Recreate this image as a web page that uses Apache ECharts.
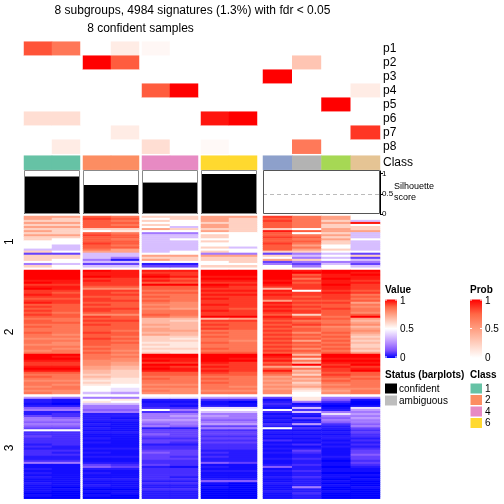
<!DOCTYPE html>
<html><head><meta charset="utf-8">
<script src="https://cdn.jsdelivr.net/npm/echarts@6/dist/echarts.min.js"></script>
<style>html,body{margin:0;padding:0;background:#fff}#c{width:504px;height:504px}</style>
</head><body><div id="c"></div>
<script>
// ---------------- DATA ----------------
const columns = ['c1','c2','c3','c4','c5','c6','c7','c8','c9','c10','c11','c12'];
const columnGroups = [[0,1],[2,3],[4,5],[6,7],[8,9,10,11]];
const probNames = ['p1','p2','p3','p4','p5','p6','p7','p8'];
const p1 = [0.80,0.68,0,0.10,0.04,0,0,0,0,0,0,0];
const p2 = [0,0,1.00,0.78,0,0,0,0,0,0.30,0,0];
const p3 = [0,0,0,0,0,0,0,0,1.00,0,0,0];
const p4 = [0,0,0,0,0.78,1.00,0,0,0,0,0,0.10];
const p5 = [0,0,0,0,0,0,0,0,0,0,1.00,0];
const p6 = [0.17,0.17,0,0,0,0,0.95,1.00,0,0,0,0];
const p7 = [0,0,0,0.10,0,0,0,0,0,0,0,0.87];
const p8 = [0,0.10,0,0,0.17,0,0.03,0,0,0.67,0,0];
const classes = [1,1,2,2,4,4,6,6,3,8,5,7];
const silhouette = [0.93,0.93,0.72,0.72,0.78,0.78,0.99,0.99,0,0,0,0];
const sliceLabels = ['1','2','3'];
// heatmap rows: one char per column; each char is a colour level
const levelChars = '0123456789ABCDEFGHIJK';
const levelValues = [0.00,0.02,0.04,0.07,0.10,0.15,0.21,0.28,0.36,0.43,0.50,0.56,0.62,0.68,0.74,0.79,0.84,0.89,0.93,0.97,1.00];
const slice1Rows = ["EEHGCCEEIGEA","ECIHACECHGEA","CCHGCAECIGC8","EEHHAACCHGEJ","CCHGCAECHGCA","EEHHA8ECHGCC","CCCCECCCCAEC","ECABAAECJHEE","CCHG66AAHAC8","EEIH88CAHGE8","CCHH88CAIHC8","CAHG8AAAHGEA","AAHH88CAHHC8","AAIH88AAIGC8","A8HG88AAHEA8","A8HH88C8HGA8","88GE88AAHEC8","CAEE8ACACCAA","4488AA664684","CC88EEEEC8AC","CC86CCCCA684","CA62ECCCECA8","AA88AAAC4666","684422AA6484","CA8844CCA6A8"];
const slice2Rows = ["KKKJJJKKKJKK","KKJJIIKKKKKJ","KKJJJIKKKHJK","KKKJKJJJKIJJ","KKIIIHKKKGKJ","JJJIJIJJJIJI","KJIIHHIIKHJJ","IIIIKKKJJIKI","JJHHHHJIIIJI","KJFFHHIIDIJI","IIIIGGJJJAIH","IHIHHHIIIIJI","JIIIGGJJJIIG","IIHHHGIIIHIH","HHIHGGJIIIIG","IIIIHGIIEHHH","JIHHGFIIJIIE","HHIHFFJIIHHG","IHHHGFIIJIHF","HHIIFEIHIHIG","IHIHGGJIJIHG","HGHHGGIIIIHF","IHFFHGIIHCHH","HHIHGFKKJHGK","GGHHDDDEIIHE","HGIIDCIIHGGD","HHHHDDHHIHGE","GGIHEDIHHIHF","HGHHDDHHIGFD","GGHHEDIHHHGE","GGHGEEGGIHGF","HGIHDDHGHFHE","GFHHEDGGIHGD","GGHGCCHGHGHC","FFIHCBGGIHGD","GGHGCCGFHEHC","GFHHBBHGIHGD","FFHGCBGGHGHC","GGGGBBGGIHGC","GFHGCCHGHFHD","FGGFBBGGIHGC","GGHGCBHHHGHE","KKGFKKKKKDKK","KJGGKKKKJHKK","KKGFJJKJICJJ","JJFFKJKKJGKK","IIFEIIJIHDJJ","IIFEKKIIIKIK","JJEDJIJIECJI","KKEDKJIIHGIJ","JJDCJJJIJDIK","HHDCHHIHHEHH","GGCCHHHHGCIH","HGDCGGGGEFHG","GGCBHGHGFDGH","FFBBGGGGEEHG","GGCBGGHGFCGG","GFBAFFGGEDFG","FGAAGGGFFEGG","GGA9FFGGECFF","FFA9GFFFFBEG","GF87FFGGFAFG"];
const slice3Rows = ["766699774B66","21AB22331B51","21BA11102630","108822113110","226621212201","556633991819","6655A6AAA327","226634883866","232266661297","432267762166","652166661457","662277552166","551166661256","662156773735","551165442126","44212266A324","AA1144331113","332244442224","331154441113","431144332223","332133441122","331144333213","332143441122","231122332313","321133331122","222233332213","331144221414","322154322314","331144221215","222243321224","221144222314","331133221203","662233541214","114343112313","115421215202","212233111211","111133222311","212133111200","111133111211","211132112310","112233221201","111122551210","211133102200","112122001210","101122101601","110033001200","101122002210","000122001300","101022001200","000022001200"];
const valueTicks = ['1','0.5','0'];
const probTicks = ['1','0.5','0'];
const statusLabels = ['confident','ambiguous'];
const classLegend = [1,2,4,6];

// ---------------- STYLE / LAYOUT ----------------
const FONT = '"Liberation Sans", Arial, Helvetica, sans-serif';
const valueColors = ['#0000FF','#7E51FF','#B38BFF','#DCC5FF','#FFFFFF','#FFCFBF','#FF9E81','#FF6846','#FF0000'];
const probColors = ['#FFFFFF','#FFCFBF','#FF9E81','#FF6846','#FF0000'];
const classColors = {1:'#66C2A5',2:'#FC8D62',3:'#8DA0CB',4:'#E78AC3',5:'#A6D854',6:'#FFD92F',7:'#E5C494',8:'#B3B3B3'};
const groupX = [[24,56],[83,56],[142,56],[201,56],[263,117]];
const blocks = {
  prob:{top:41.7,height:112},
  cls:{top:155.7,height:14},
  sil:{top:171,height:43},
  s1:{top:216,height:51.3},
  s2:{top:270,height:124},
  s3:{top:397,height:101.7}
};
const silMax = 1.067;

const probRows = [p1,p2,p3,p4,p5,p6,p7,p8];
const decode = rows => rows.map(r => r.split('').map(ch => levelValues[levelChars.indexOf(ch)]));
const slices = [decode(slice1Rows), decode(slice2Rows), decode(slice3Rows)];

const grids = [], xAxes = [], yAxes = [], series = [];
const valueSeries = [], probSeries = [], classSeries = [];
const graphics = [];

function addGrid(gi, block) {
  const g = groupX[gi];
  grids.push({left:g[0], top:block.top, width:g[1], height:block.height, show:false, containLabel:false});
  return grids.length - 1;
}

columnGroups.forEach((cols, gi) => {
  const isLast = gi === columnGroups.length - 1;
  const colNames = cols.map(c => columns[c]);
  // prob
  let idx = addGrid(gi, blocks.prob);
  xAxes.push({type:'category', gridIndex:idx, data:colNames, show:false});
  yAxes.push({type:'category', gridIndex:idx, data:probNames, inverse:true, show:isLast, position:'right',
    axisLine:{show:false}, axisTick:{show:false},
    axisLabel:{show:isLast, interval:0, margin:3, fontSize:12, color:'#000', fontFamily:FONT}});
  const pd = [];
  cols.forEach((c, xi) => probRows.forEach((row, yi) => pd.push([xi, yi, row[c]])));
  probSeries.push(series.length);
  series.push({type:'heatmap', xAxisIndex:idx, yAxisIndex:idx, data:pd, silent:true});
  // class
  idx = addGrid(gi, blocks.cls);
  xAxes.push({type:'category', gridIndex:idx, data:colNames, show:false});
  yAxes.push({type:'category', gridIndex:idx, data:['Class'], show:isLast, position:'right',
    axisLine:{show:false}, axisTick:{show:false},
    axisLabel:{show:isLast, interval:0, margin:3, fontSize:12, color:'#000', fontFamily:FONT}});
  classSeries.push(series.length);
  series.push({type:'heatmap', xAxisIndex:idx, yAxisIndex:idx, data:cols.map((c, xi) => [xi, 0, classes[c]]), silent:true});
  // silhouette
  idx = addGrid(gi, blocks.sil);
  xAxes.push({type:'category', gridIndex:idx, data:colNames, show:false});
  yAxes.push({type:'value', gridIndex:idx, min:0, max:silMax, show:isLast, position:'right',
    splitLine:{show:false},
    axisLine:{show:isLast, lineStyle:{color:'#000', width:1}},
    axisTick:{show:isLast, length:3, customValues:[0,0.5,1], lineStyle:{color:'#000'}},
    axisLabel:{show:isLast, fontSize:8, margin:2, color:'#000', fontFamily:FONT, customValues:[0,0.5,1],
      formatter:v => String(v)}});
  const sObj = {type:'bar', xAxisIndex:idx, yAxisIndex:idx, data:cols.map(c => silhouette[c]),
    barCategoryGap:'0%', barGap:'0%', itemStyle:{color:'#000'}, silent:true};
  if (isLast) sObj.markLine = {silent:true, symbol:'none', label:{show:false},
    lineStyle:{color:'#BBBBBB', type:[4,3], width:1}, data:[{yAxis:0.5}]};
  series.push(sObj);
  const g = groupX[gi];
  graphics.push({type:'rect', z:100, shape:{x:g[0]+0.5, y:blocks.sil.top-0.5, width:g[1]-1, height:blocks.sil.height},
    style:{fill:null, stroke:isLast ? '#555' : '#888', lineWidth:1}});
  // heatmap slices
  ['s1','s2','s3'].forEach((key, si) => {
    const rows = slices[si];
    const i2 = addGrid(gi, blocks[key]);
    xAxes.push({type:'category', gridIndex:i2, data:colNames, show:false});
    yAxes.push({type:'category', gridIndex:i2, data:rows.map((r, k) => 'r' + k), inverse:true, show:false});
    const d = [];
    rows.forEach((row, yi) => cols.forEach((c, xi) => d.push([xi, yi, row[c]])));
    valueSeries.push(series.length);
    series.push({type:'heatmap', xAxisIndex:i2, yAxisIndex:i2, data:d, silent:true});
  });
});

// titles
graphics.push({type:'text', x:192.5, y:11, style:{text:'8 subgroups, 4984 signatures (1.3%) with fdr < 0.05', fill:'#000', font:'12px ' + FONT, textAlign:'center', textVerticalAlign:'middle'}});
graphics.push({type:'text', x:140.5, y:29, style:{text:'8 confident samples', fill:'#000', font:'12px ' + FONT, textAlign:'center', textVerticalAlign:'middle'}});
// slice labels
['s1','s2','s3'].forEach((key, si) => {
  const b = blocks[key];
  graphics.push({type:'text', x:10, y:b.top + b.height/2, rotation:Math.PI/2,
    style:{text:sliceLabels[si], fill:'#000', font:'12px ' + FONT, textAlign:'center', textVerticalAlign:'middle'}});
});
// silhouette axis name
graphics.push({type:'text', x:394, y:187, style:{text:'Silhouette', fill:'#000', font:'9px ' + FONT, textAlign:'left', textVerticalAlign:'middle'}});
graphics.push({type:'text', x:394, y:198, style:{text:'score', fill:'#000', font:'9px ' + FONT, textAlign:'left', textVerticalAlign:'middle'}});

// legends
function colorbar(x, title, colorsTopToBottom, ticks) {
  graphics.push({type:'text', x:x, y:290, style:{text:title, fill:'#000', font:'bold 10px ' + FONT, textAlign:'left', textVerticalAlign:'middle'}});
  const stops = colorsTopToBottom.map((c, i) => ({offset:i/(colorsTopToBottom.length-1), color:c}));
  graphics.push({type:'rect', shape:{x:x, y:299.5, width:12, height:58.5},
    style:{fill:new echarts.graphic.LinearGradient(0,0,0,1,stops)}});
  [0,0.5,1].forEach((f, i) => {
    const yy = 300 + f*57;
    graphics.push({type:'line', shape:{x1:x, y1:yy, x2:x+2, y2:yy}, style:{stroke:'#fff', lineWidth:1}, z:10});
    graphics.push({type:'line', shape:{x1:x+10, y1:yy, x2:x+12, y2:yy}, style:{stroke:'#fff', lineWidth:1}, z:10});
    graphics.push({type:'text', x:x+15, y:yy+1, style:{text:ticks[i], fill:'#000', font:'10px ' + FONT, textAlign:'left', textVerticalAlign:'middle'}});
  });
}
colorbar(385, 'Value', valueColors.slice().reverse(), valueTicks);
colorbar(470, 'Prob', probColors.slice().reverse(), probTicks);

graphics.push({type:'text', x:385, y:375, style:{text:'Status (barplots)', fill:'#000', font:'bold 10px ' + FONT, textAlign:'left', textVerticalAlign:'middle'}});
['#000000','#BEBEBE'].forEach((c, i) => {
  graphics.push({type:'rect', shape:{x:385, y:383.5 + i*12, width:12, height:10}, style:{fill:c}});
  graphics.push({type:'text', x:399, y:389 + i*12, style:{text:statusLabels[i], fill:'#000', font:'10px ' + FONT, textAlign:'left', textVerticalAlign:'middle'}});
});
graphics.push({type:'text', x:470, y:375, style:{text:'Class', fill:'#000', font:'bold 10px ' + FONT, textAlign:'left', textVerticalAlign:'middle'}});
classLegend.forEach((cl, i) => {
  graphics.push({type:'rect', shape:{x:470.5, y:383.5 + i*11.5, width:11.5, height:10}, style:{fill:classColors[cl]}});
  graphics.push({type:'text', x:485, y:389 + i*11.5, style:{text:String(cl), fill:'#000', font:'10px ' + FONT, textAlign:'left', textVerticalAlign:'middle'}});
});

const chart = echarts.init(document.getElementById('c'), null, {renderer:'canvas'});
chart.setOption({
  animation:false,
  backgroundColor:'#fff',
  grid:grids, xAxis:xAxes, yAxis:yAxes,
  visualMap:[
    {type:'continuous', show:false, min:0, max:1, dimension:2, seriesIndex:valueSeries, inRange:{color:valueColors}},
    {type:'continuous', show:false, min:0, max:1, dimension:2, seriesIndex:probSeries, inRange:{color:probColors}},
    {type:'piecewise', show:false, dimension:2, seriesIndex:classSeries,
      pieces:Object.keys(classColors).map(k => ({value:+k, color:classColors[k]}))}
  ],
  series:series,
  graphic:{elements:graphics}
});
</script></body></html>
